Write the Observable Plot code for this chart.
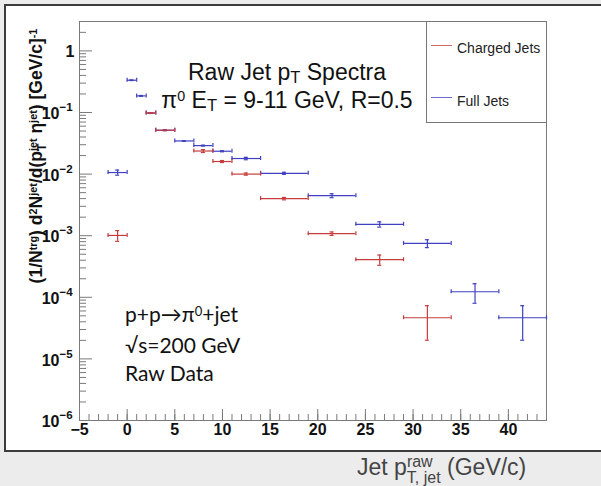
<!DOCTYPE html>
<html><head><meta charset="utf-8">
<script src="https://cdn.jsdelivr.net/npm/d3@7"></script>
<script src="https://cdn.jsdelivr.net/npm/@observablehq/plot@0.6"></script>
<style>
html,body{margin:0;padding:0;}
body{background:#ececec;width:601px;height:486px;overflow:hidden;}
#wrap{position:relative;width:601px;height:486px;}
#panel{position:absolute;left:4px;top:4px;width:597px;height:448px;box-sizing:border-box;background:#fff;border:2px solid #3c3c3c;border-right:none;}
#chart{position:absolute;left:0;top:0;}
.ov{position:absolute;white-space:nowrap;line-height:1;}
.sup{position:relative;top:-0.45em;font-size:0.62em;}
.sub{position:relative;top:0.35em;font-size:0.75em;}
.title{font-family:"Liberation Sans",Arial,sans-serif;font-size:23px;color:#111;transform:translateX(-50%);}
.title .sub{top:0.22em;font-size:0.72em;}
.note{font-family:Lato,sans-serif;font-size:21px;color:#111;line-height:28px;}
#legend{position:absolute;left:426px;top:21px;width:121px;height:102px;box-sizing:border-box;border:1px solid #777;background:#fff;}
.lline{position:absolute;height:1px;width:21px;left:4px;}
.ltext{position:absolute;left:30px;font-family:"Liberation Sans",Arial,sans-serif;font-size:14px;color:#222;line-height:1;white-space:nowrap;}
#ylab{font-family:"Liberation Sans",Arial,sans-serif;font-weight:bold;font-size:17.5px;color:#111;left:37px;top:156px;transform:translate(-50%,-50%) rotate(-90deg);}
#xlab{font-family:"Liberation Sans",Arial,sans-serif;font-size:23px;color:#444;left:357px;top:455.5px;}
</style></head>
<body><div id="wrap">
<div id="panel"></div>
<div id="chart"></div>
<div class="ov title" style="left:287px;top:60.5px;">Raw Jet p<span class="sub">T</span> Spectra</div>
<div class="ov title" style="left:287px;top:88.5px;">π<span class="sup">0</span> E<span class="sub">T</span> = 9-11 GeV, R=0.5</div>
<div class="ov note" style="left:125px;top:299.6px;">p+p→π<span class="sup">0</span>+jet<br>√s=200 GeV<br>Raw Data</div>
<div id="legend">
  <div class="lline" style="top:23px;background:#d06a6a;"></div>
  <div class="ltext" style="top:18.5px;">Charged Jets</div>
  <div class="lline" style="top:75px;background:#6a6ad0;"></div>
  <div class="ltext" style="top:72px;">Full Jets</div>
</div>
<div class="ov" id="ylab">(1/N<span class="sup">trg</span>) d<span class="sup">2</span>N<span class="sup">jet</span>/d(p<span class="sub" style="font-size:0.7em">T</span><span class="sup" style="margin-left:-7.5px">jet</span> η<span class="sup">jet</span>) [GeV/c]<span class="sup">-1</span></div>
<div class="ov" id="xlab">Jet p<span style="position:relative;top:-8px;font-size:16px;">raw</span><span style="position:relative;top:8px;font-size:16px;margin-left:-25.8px;">T, jet</span> (GeV/c)</div>
</div>
<script>
// bin edges (GeV/c)
const binLo = [-2, 0, 1, 2, 3, 5, 7, 9, 11, 14, 19, 24, 29, 34, 39];
const binHi = [0, 1, 2, 3, 5, 7, 9, 11, 14, 19, 24, 29, 34, 39, 44];
// Full jets
const fullVal = [0.0106, 0.334, 0.186, 0.098, 0.0515, 0.0345, 0.029, 0.0235, 0.0179, 0.0103, 0.00447, 0.00153, 7.5e-4, 1.23e-4, 4.66e-5];
const fullErr = [0.001, 0.004, 0.003, 0.0015, 0.0008, 0.0005, 0.0005, 0.0005, 0.0008, 0.0004, 3.3e-4, 1.5e-4, 1.1e-4, 4.3e-5, 2.65e-5];
// Charged jets
const chgVal = [1.01e-3, null, null, 0.098, 0.0515, null, 0.0237, 0.016, 0.0100, 0.0040, 1.08e-3, 4.08e-4, 4.66e-5, null, null];
const chgErr = [2e-4, null, null, 0.0015, 0.0008, null, 0.0013, 0.0006, 0.0004, 1.8e-4, 7e-5, 7.7e-5, 2.65e-5, null, null];
const seriesNames = ["Charged Jets", "Full Jets"];
const seriesColors = ["#c83c3c", "#4040c0"];
// axes
const xDomain = [-5, 44];
const yDomain = [1e-6, 3];
const xMajor = [-5, 0, 5, 10, 15, 20, 25, 30, 35, 40];
const xMinor = d3.range(-5, 45, 1);
const yMajorExp = [0, -1, -2, -3, -4, -5, -6];
const yMinorMult = [2, 3, 4, 5, 6, 7, 8, 9];

const rows = (vals, errs, series) => binLo.map((lo, i) => ({lo, hi: binHi[i], x: (lo + binHi[i]) / 2, y: vals[i], e: errs[i], series})).filter(d => d.y != null);
const data = [...rows(fullVal, fullErr, "Full Jets"), ...rows(chgVal, chgErr, "Charged Jets")];

const yMajor = yMajorExp.map(e => Math.pow(10, e));
const yMinor = [];
for (const e of yMajorExp) for (const m of yMinorMult) { const v = m * Math.pow(10, e); if (v <= yDomain[1]) yMinor.push(v); }

const axisColor = "#7a7a7a";
const tickFont = "Liberation Sans, Arial, sans-serif";
const sw = 1.2;

const plot = Plot.plot({
  width: 601, height: 450,
  marginLeft: 79, marginRight: 55, marginTop: 21, marginBottom: 30,
  style: {background: "transparent", overflow: "visible"},
  x: {domain: xDomain, axis: null},
  y: {type: "log", domain: yDomain, axis: null},
  color: {domain: seriesNames, range: seriesColors},
  marks: [
    Plot.frame({stroke: axisColor}),
    // y ticks
    Plot.ruleY(yMajor, {y: d => d, x1: xDomain[0], x2: xDomain[0], insetRight: -13, stroke: axisColor}),
    Plot.ruleY(yMinor, {y: d => d, x1: xDomain[0], x2: xDomain[0], insetRight: -7, stroke: axisColor}),
    // x ticks
    Plot.ruleX(xMajor, {x: d => d, y1: yDomain[0], y2: yDomain[0], insetTop: -11, stroke: axisColor}),
    Plot.ruleX(xMinor, {x: d => d, y1: yDomain[0], y2: yDomain[0], insetTop: -6, stroke: axisColor}),
    // x tick labels
    Plot.text(xMajor, {x: d => d, frameAnchor: "bottom", dy: 14, text: d => d < 0 ? "\u2212" + Math.abs(d) : String(d), fontSize: 16, fontWeight: "bold", fontFamily: tickFont, fill: "#111"}),
    // y tick labels
    Plot.text(yMajorExp.filter(e => e === 0), {y: e => Math.pow(10, e), frameAnchor: "left", dx: -5, dy: 1, textAnchor: "end", text: () => "1", fontSize: 16, fontWeight: "bold", fontFamily: tickFont, fill: "#111"}),
    Plot.text(yMajorExp.filter(e => e !== 0), {y: e => Math.pow(10, e), frameAnchor: "left", dx: -20, dy: 1.5, textAnchor: "end", text: () => "10", fontSize: 16, fontWeight: "bold", fontFamily: tickFont, fill: "#111"}),
    Plot.text(yMajorExp.filter(e => e !== 0), {y: e => Math.pow(10, e), frameAnchor: "left", dx: -20, dy: -5, textAnchor: "start", text: e => "\u2212" + Math.abs(e), fontSize: 11.5, fontWeight: "bold", fontFamily: tickFont, fill: "#111"}),
    // error bars: horizontal bin width
    Plot.ruleY(data, {y: "y", x1: "lo", x2: "hi", stroke: "series", strokeWidth: sw}),
    Plot.ruleX(data, {x: "lo", y1: "y", y2: "y", insetTop: -2, insetBottom: -2, stroke: "series", strokeWidth: sw}),
    Plot.ruleX(data, {x: "hi", y1: "y", y2: "y", insetTop: -2, insetBottom: -2, stroke: "series", strokeWidth: sw}),
    // vertical stat errors
    Plot.ruleX(data, {x: "x", y1: d => d.y - d.e, y2: d => d.y + d.e, stroke: "series", strokeWidth: sw}),
    Plot.ruleY(data, {y: d => d.y - d.e, x1: "x", x2: "x", insetLeft: -2, insetRight: -2, stroke: "series", strokeWidth: sw}),
    Plot.ruleY(data, {y: d => d.y + d.e, x1: "x", x2: "x", insetLeft: -2, insetRight: -2, stroke: "series", strokeWidth: sw})
  ]
});
document.getElementById("chart").appendChild(plot);
</script>
</body></html>
